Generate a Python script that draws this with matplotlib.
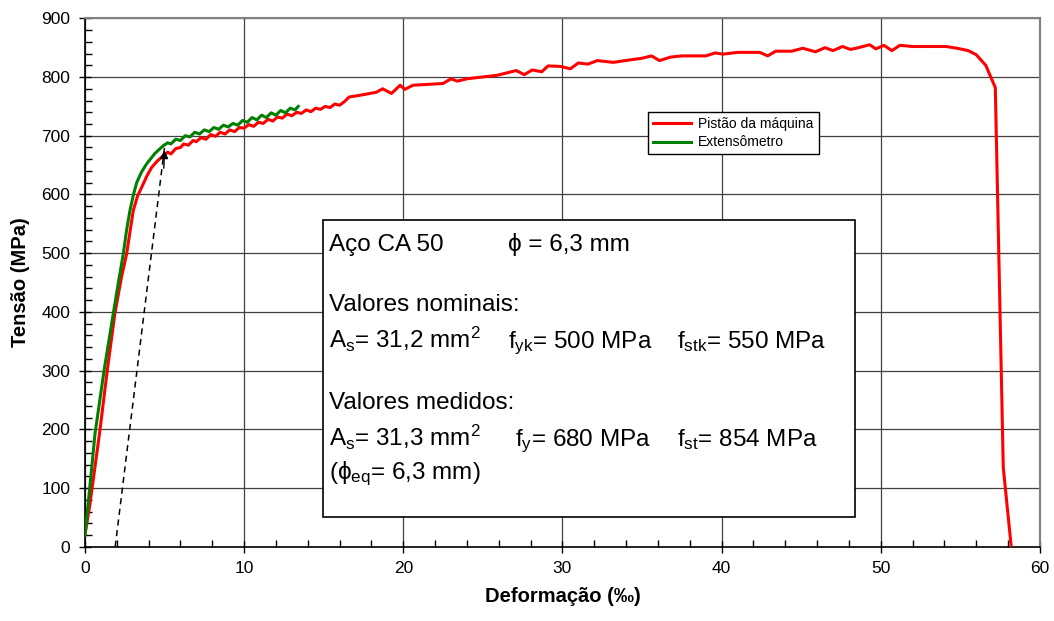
import matplotlib
matplotlib.use('Agg')
import matplotlib.pyplot as plt
from matplotlib.patches import Rectangle
from matplotlib.ticker import MultipleLocator

plt.rcParams['font.family'] = ['Liberation Sans', 'DejaVu Sans']
plt.rcParams['mathtext.fontset'] = 'custom'
plt.rcParams['mathtext.rm'] = 'Liberation Sans'
plt.rcParams['mathtext.it'] = 'Liberation Sans:italic'

# Pistão da máquina
pistao_x = [0, 0.3, 0.6, 0.94, 1.4, 1.88, 2.3, 2.62, 2.85, 3.04, 3.3, 3.56, 3.9, 4.19,
            4.55, 4.92, 5.2, 5.4, 5.7, 6.0, 6.2, 6.5, 6.8, 7.0, 7.3, 7.6, 7.9, 8.2,
            8.5, 8.8, 9.1, 9.4, 9.7, 10.0, 10.3, 10.6, 10.9, 11.2, 11.5, 11.8, 12.1,
            12.4, 12.7, 13.0, 13.3, 13.6, 13.9, 14.2, 14.5, 14.8, 15.1, 15.4, 15.7,
            16.0, 16.3, 16.6, 16.85, 17.5,
            18.3, 18.7, 19.26, 19.8, 20.1, 20.6, 22.5, 23.0, 23.4, 24.0, 25.9, 27.1,
            27.6, 28.1, 28.7, 29.1, 29.9, 30.5, 31.0, 31.6, 32.2, 33.2, 34.2, 35.0,
            35.6, 36.1, 36.8, 37.5, 39.0, 39.6, 40.1, 41.0, 42.4, 42.9, 43.4, 44.4,
            45.1, 45.9, 46.5, 47.0, 47.6, 48.1, 48.6, 49.3, 49.7, 50.2, 50.7, 51.2,
            52.0, 54.1, 54.8, 55.5, 56.0, 56.6, 57.2, 57.7, 58.2]
pistao_y = [20, 70, 130, 198, 300, 397, 460, 499, 540, 573, 597, 612, 632, 646,
            657, 666, 672, 669, 678, 680, 686, 684, 692, 690, 697, 694, 702, 699,
            706, 703, 710, 707, 714, 713, 719, 716, 723, 721, 728, 725, 732,
            730, 737, 734, 740, 738, 744, 741, 747, 745, 750, 748, 754,
            752, 758, 766, 767, 770,
            774, 780, 772, 786, 779, 786, 789, 797, 793, 797, 803, 811,
            804, 812, 809, 819, 818, 814, 824, 822, 828, 825, 829, 832,
            836, 828, 834, 836, 836, 841, 839, 842, 842, 836, 844, 844,
            849, 843, 850, 845, 852, 847, 850, 855, 848, 854, 845, 854,
            852, 852, 849, 845, 838, 820, 782, 135, 0]

# Extensômetro
ext_x = [0, 0.3, 0.63, 1.2, 1.78, 2.1, 2.41, 2.62, 2.83, 3.05, 3.25, 3.55, 3.87, 4.4,
         4.92, 5.2, 5.4, 5.7, 6.0, 6.3, 6.6, 6.9, 7.2, 7.5, 7.8, 8.1, 8.4, 8.7, 9.0,
         9.3, 9.6, 9.9, 10.2, 10.5, 10.8, 11.1, 11.4, 11.7, 12.0, 12.3, 12.6, 12.9,
         13.2, 13.4]
ext_y = [20, 100, 192, 300, 397, 450, 499, 540, 573, 600, 620, 638, 652, 670,
         683, 688, 686, 694, 692, 700, 698, 706, 703, 710, 707, 714, 711, 718, 715,
         721, 718, 726, 723, 731, 727, 735, 731, 739, 735, 743, 739, 747,
         744, 750]

# reta paralela (escoamento)
reta_x = [1.9, 5.0]
reta_y = [0, 680]

fig = plt.figure(figsize=(10.54, 6.21), dpi=100)
ax = fig.add_axes([0.0806, 0.1196, 0.906, 0.8509])

ax.plot(pistao_x, pistao_y, color='#ff0000', lw=2.2, label='Pistão da máquina', zorder=3)
ax.plot(ext_x, ext_y, color='#008000', lw=2.2, label='Extensômetro', zorder=4)
ax.plot(reta_x, reta_y, color='black', lw=1.1, ls=(0, (4, 3)), zorder=5)
ax.annotate('', xy=(reta_x[1], reta_y[1]), xytext=(4.95, 640),
            arrowprops=dict(arrowstyle='-|>', color='black', lw=1, mutation_scale=12),
            zorder=6)

ax.set_xlim(0, 60)
ax.set_ylim(0, 900)
ax.xaxis.set_major_locator(MultipleLocator(10))
ax.xaxis.set_minor_locator(MultipleLocator(2))
ax.yaxis.set_major_locator(MultipleLocator(100))
ax.yaxis.set_minor_locator(MultipleLocator(20))
ax.tick_params(which='major', direction='inout', length=9, width=1, labelsize=12.5, pad=6)
ax.tick_params(which='minor', direction='in', length=5, width=1)
ax.grid(True, which='major', color='#404040', lw=0.9)
ax.set_axisbelow(True)

for s in ['top', 'right']:
    ax.spines[s].set_color('#808080')
    ax.spines[s].set_linewidth(1.5)
for s in ['left', 'bottom']:
    ax.spines[s].set_color('black')
    ax.spines[s].set_linewidth(1.2)

ax.set_xlabel('Deformação (‰)', fontsize=14.5, fontweight='bold', labelpad=8)
ax.set_ylabel('Tensão (MPa)', fontsize=14.5, fontweight='bold', labelpad=8)

leg = ax.legend(loc='upper left', bbox_to_anchor=(0.582, 0.835), fontsize=10,
                frameon=True, fancybox=False, edgecolor='black', framealpha=1,
                handlelength=2.8, borderpad=0.35, labelspacing=0.3, handletextpad=0.5)
leg.get_frame().set_linewidth(1)
leg.set_zorder(10)

# caixa de texto
ax.add_patch(Rectangle((14.95, 51), 33.45, 506, facecolor='white', edgecolor='black',
                       lw=1.2, zorder=8))

fs = 17.5
x0 = 15.35
kw = dict(fontsize=fs, zorder=9, va='baseline')
ax.text(x0, 504, 'Aço CA 50', **kw)
ax.text(26.6, 504, 'ϕ = 6,3 mm', **kw)
ax.text(x0, 402, 'Valores nominais:', **kw)
ax.text(x0, 338, r'A$_\mathrm{s}$= 31,2 mm$^\mathrm{2}$', **kw)
ax.text(26.6, 338, r'f$_\mathrm{yk}$= 500 MPa', **kw)
ax.text(37.2, 338, r'f$_\mathrm{stk}$= 550 MPa', **kw)
ax.text(x0, 235, 'Valores medidos:', **kw)
ax.text(x0, 172, r'A$_\mathrm{s}$= 31,3 mm$^\mathrm{2}$', **kw)
ax.text(27.0, 172, r'f$_\mathrm{y}$= 680 MPa', **kw)
ax.text(37.2, 172, r'f$_\mathrm{st}$= 854 MPa', **kw)
ax.text(x0, 116, r'(ϕ$_\mathrm{eq}$= 6,3 mm)', **kw)

fig.savefig('out.png', dpi=100)
